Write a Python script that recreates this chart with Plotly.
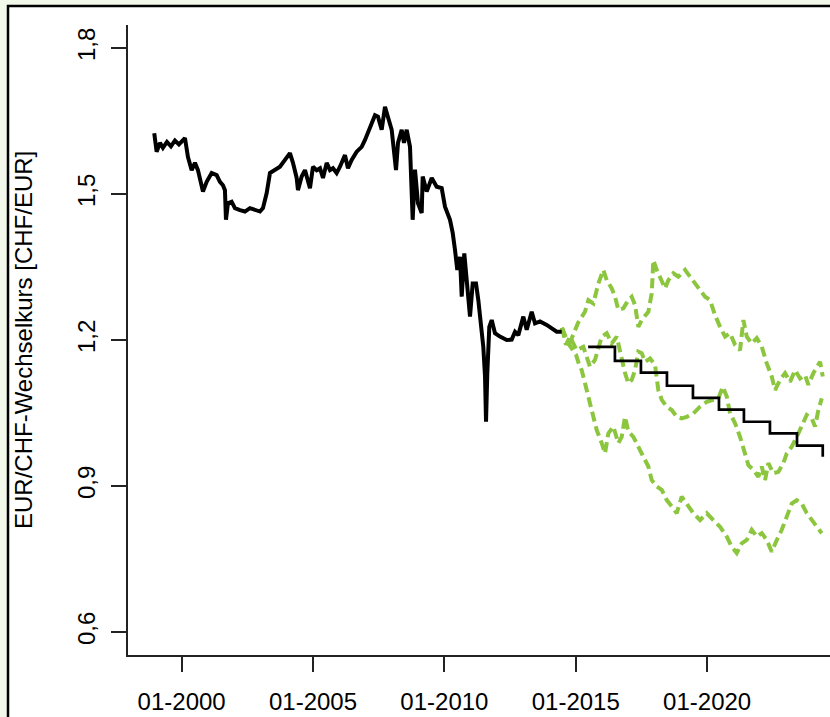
import plotly.graph_objects as go

# ---- data ----
hist_t = [1998.957, 1999.048, 1999.174, 1999.288, 1999.44, 1999.593, 1999.745, 1999.897, 2000.126, 2000.24,
          2000.381, 2000.506, 2000.62, 2000.761, 2000.811, 2000.952, 2001.142, 2001.332, 2001.458, 2001.572,
          2001.648, 2001.686, 2001.762, 2001.903, 2002.029, 2002.219, 2002.408, 2002.599, 2002.789, 2002.98,
          2003.095, 2003.236, 2003.361, 2003.552, 2003.742, 2003.932, 2004.122, 2004.237, 2004.378, 2004.427,
          2004.568, 2004.694, 2004.808, 2004.884, 2004.998, 2005.139, 2005.265, 2005.379, 2005.52, 2005.645,
          2005.759, 2005.9, 2006.026, 2006.216, 2006.33, 2006.471, 2006.662, 2006.852, 2006.978, 2007.092,
          2007.233, 2007.358, 2007.472, 2007.613, 2007.739, 2007.853, 2007.994, 2008.158, 2008.234, 2008.375,
          2008.462, 2008.565, 2008.691, 2008.793, 2008.881, 2008.995, 2009.136, 2009.174, 2009.326, 2009.517,
          2009.707, 2009.897, 2010.023, 2010.213, 2010.316, 2010.404, 2010.491, 2010.594, 2010.659, 2010.757,
          2010.849, 2010.975, 2011.077, 2011.203, 2011.291, 2011.393, 2011.481, 2011.546, 2011.584, 2011.633,
          2011.709, 2011.8, 2011.926, 2012.116, 2012.372, 2012.562, 2012.688, 2012.813, 2013.004, 2013.133,
          2013.323, 2013.449, 2013.639, 2013.894, 2014.085, 2014.275, 2014.465]
hist_v = [1.625, 1.587, 1.605, 1.595, 1.607, 1.598, 1.610, 1.602, 1.615, 1.576,
          1.549, 1.564, 1.549, 1.515, 1.505, 1.525, 1.543, 1.539, 1.525, 1.518,
          1.508, 1.447, 1.481, 1.484, 1.471, 1.467, 1.464, 1.471, 1.467, 1.464,
          1.471, 1.502, 1.543, 1.549, 1.556, 1.570, 1.584, 1.564, 1.533, 1.508,
          1.536, 1.549, 1.529, 1.512, 1.556, 1.549, 1.553, 1.533, 1.564, 1.549,
          1.553, 1.543, 1.556, 1.580, 1.553, 1.570, 1.587, 1.597, 1.611, 1.628,
          1.649, 1.662, 1.659, 1.632, 1.679, 1.659, 1.632, 1.549, 1.605, 1.632,
          1.605, 1.632, 1.597, 1.447, 1.550, 1.481, 1.461, 1.536, 1.505, 1.533,
          1.515, 1.512, 1.474, 1.447, 1.420, 1.385, 1.344, 1.371, 1.289, 1.378,
          1.323, 1.248, 1.316, 1.316, 1.282, 1.227, 1.186, 1.125, 1.032, 1.132,
          1.227, 1.241, 1.214, 1.207, 1.200, 1.201, 1.217, 1.210, 1.248, 1.221,
          1.258, 1.234, 1.238, 1.231, 1.224, 1.217, 1.217]

simA_t = [2014.476, 2014.628, 2014.78, 2014.933, 2015.085, 2015.351, 2015.478, 2015.668, 2015.859, 2016.049,
          2016.178, 2016.369, 2016.494, 2016.62, 2016.81, 2017.0, 2017.13, 2017.256, 2017.381, 2017.511,
          2017.636, 2017.762, 2017.891, 2017.952, 2018.082, 2018.207, 2018.398, 2018.523, 2018.714, 2018.904,
          2019.159, 2019.35, 2019.54, 2019.73, 2019.921, 2020.111, 2020.301, 2020.492, 2020.682, 2020.872,
          2021.063, 2021.253, 2021.379, 2021.508, 2021.698, 2021.889, 2022.079, 2022.269, 2022.459, 2022.585,
          2022.775, 2022.966, 2023.156, 2023.346, 2023.536, 2023.727, 2023.852, 2024.043, 2024.172, 2024.298,
          2024.4]
simA_v = [1.225, 1.205, 1.195, 1.215, 1.235, 1.258, 1.282, 1.275, 1.316, 1.344,
          1.323, 1.306, 1.289, 1.262, 1.265, 1.282, 1.289, 1.272, 1.227, 1.241,
          1.248, 1.258, 1.296, 1.364, 1.344, 1.330, 1.306, 1.323, 1.337, 1.330,
          1.344, 1.330, 1.316, 1.303, 1.289, 1.282, 1.251, 1.227, 1.207, 1.214,
          1.190, 1.179, 1.241, 1.207, 1.193, 1.204, 1.186, 1.152, 1.125, 1.097,
          1.118, 1.132, 1.114, 1.138, 1.121, 1.128, 1.108, 1.132, 1.142, 1.155,
          1.125]

simB_t = [2014.476, 2014.628, 2014.78, 2015.035, 2015.286, 2015.541, 2015.731, 2015.988, 2016.178, 2016.369,
          2016.559, 2016.749, 2016.875, 2017.0, 2017.13, 2017.256, 2017.381, 2017.511, 2017.636, 2017.826,
          2018.016, 2018.142, 2018.272, 2018.462, 2018.653, 2018.843, 2019.033, 2019.223, 2019.475, 2019.73,
          2019.985, 2020.236, 2020.427, 2020.594, 2020.746, 2020.872, 2021.063, 2021.253, 2021.443, 2021.569,
          2021.759, 2021.949, 2022.079, 2022.204, 2022.33, 2022.52, 2022.71, 2022.901, 2023.03, 2023.22,
          2023.411, 2023.601, 2023.791, 2023.982, 2024.107, 2024.233, 2024.362]
simB_v = [1.225, 1.190, 1.207, 1.179, 1.186, 1.145, 1.159, 1.207, 1.214, 1.193,
          1.207, 1.159, 1.132, 1.111, 1.118, 1.138, 1.176, 1.173, 1.155, 1.162,
          1.149, 1.097, 1.077, 1.063, 1.056, 1.042, 1.039, 1.042, 1.049, 1.063,
          1.073, 1.077, 1.080, 1.104, 1.084, 1.049, 1.029, 1.001, 0.967, 0.943,
          0.933, 0.919, 0.940, 0.912, 0.947, 0.926, 0.929, 0.947, 0.967, 0.981,
          1.001, 1.025, 1.046, 1.039, 1.022, 1.056, 1.080]

simC_t = [2014.476, 2014.628, 2014.818, 2015.009, 2015.123, 2015.226, 2015.351, 2015.478, 2015.607, 2015.797,
          2015.988, 2016.113, 2016.239, 2016.429, 2016.62, 2016.749, 2016.875, 2017.0, 2017.191, 2017.381,
          2017.572, 2017.762, 2017.891, 2018.082, 2018.272, 2018.462, 2018.653, 2018.843, 2019.033, 2019.223,
          2019.475, 2019.73, 2019.985, 2020.236, 2020.492, 2020.746, 2020.936, 2021.127, 2021.317, 2021.508,
          2021.698, 2021.889, 2022.079, 2022.269, 2022.459, 2022.65, 2022.84, 2023.03, 2023.22, 2023.411,
          2023.601, 2023.791, 2023.982, 2024.172, 2024.362]
simC_v = [1.225, 1.200, 1.185, 1.170, 1.150, 1.138, 1.111, 1.084, 1.049, 1.015,
          0.988, 0.967, 1.008, 1.022, 0.988, 1.001, 1.042, 1.012, 1.001, 0.981,
          0.960, 0.940, 0.912, 0.899, 0.892, 0.871, 0.858, 0.844, 0.878, 0.864,
          0.844, 0.830, 0.844, 0.830, 0.816, 0.796, 0.775, 0.762, 0.782, 0.789,
          0.810, 0.796, 0.803, 0.789, 0.765, 0.789, 0.810, 0.837, 0.864, 0.871,
          0.864, 0.844, 0.830, 0.816, 0.803]

step_t = [2015.47, 2016.49, 2017.48, 2018.47, 2019.46, 2020.45, 2021.40, 2022.39, 2023.42, 2024.40]
step_v = [1.186, 1.157, 1.133, 1.106, 1.081, 1.057, 1.032, 1.008, 0.983, 0.960]

x_tickvals = [2000, 2005, 2010, 2015, 2020]
x_ticktext = ["01-2000", "01-2005", "01-2010", "01-2015", "01-2020"]
y_tickvals = [0.6, 0.9, 1.2, 1.5, 1.8]
y_ticktext = ["0,6", "0,9", "1,2", "1,5", "1,8"]
y_title = "EUR/CHF-Wechselkurs [CHF/EUR]"

GREEN = "#8cc63f"
BG = "#f2f8ea"
FONT = "Liberation Sans, Arial, sans-serif"

fig = go.Figure()
for t, v in [(simA_t, simA_v), (simB_t, simB_v), (simC_t, simC_v)]:
    fig.add_trace(go.Scatter(x=t, y=v, mode="lines",
                             line=dict(color=GREEN, width=4, dash="10px,5px"),
                             showlegend=False, hoverinfo="skip"))
fig.add_trace(go.Scatter(x=hist_t, y=hist_v, mode="lines",
                         line=dict(color="black", width=4), showlegend=False))
fig.add_trace(go.Scatter(x=step_t, y=step_v, mode="lines",
                         line=dict(color="black", width=2.7, shape="hv"), showlegend=False))

W, H = 830, 717
ml, mr, mt, mb = 128, 0, 25, 62
pw, ph = W - ml - mr, H - mt - mb

def px(xp):
    return (xp - ml) / pw

def py(yp):
    return (H - mb - yp) / ph

fig.add_shape(type="rect", xref="paper", yref="paper",
              x0=px(8), x1=px(850), y0=py(740), y1=py(6),
              line=dict(color="black", width=2.5), fillcolor="white", layer="below")

fig.add_annotation(text=y_title, xref="paper", yref="paper", x=px(23), y=0.5,
                   xanchor="center", yanchor="middle", textangle=-90, showarrow=False,
                   font=dict(family=FONT, size=24, color="black"))

fig.update_layout(
    width=W, height=H,
    margin=dict(l=ml, r=mr, t=mt, b=mb, pad=0),
    paper_bgcolor=BG, plot_bgcolor="white",
    font=dict(family=FONT, size=24, color="black"),
    xaxis=dict(range=[1997.958, 2024.676], tickvals=x_tickvals, ticktext=x_ticktext,
               showgrid=False, zeroline=False, showline=True, linecolor="#222", linewidth=2,
               ticks="outside", ticklen=15, tickwidth=2, tickcolor="#222",
               tickfont=dict(family=FONT, size=24, color="black"), ticklabelstandoff=9),
    yaxis=dict(range=[0.5527, 1.8473], tickvals=y_tickvals, ticktext=y_ticktext,
               showgrid=False, zeroline=False, showline=True, linecolor="#222", linewidth=2,
               ticks="outside", ticklen=15, tickwidth=2, tickcolor="#222", tickangle=-90,
               tickfont=dict(family=FONT, size=24, color="black"), ticklabelstandoff=6),
)

fig.write_html("out.html", config={"displayModeBar": False},
               post_script="document.body.style.margin='0';document.body.style.overflow='hidden';"
                           "document.body.style.background='" + BG + "';")
